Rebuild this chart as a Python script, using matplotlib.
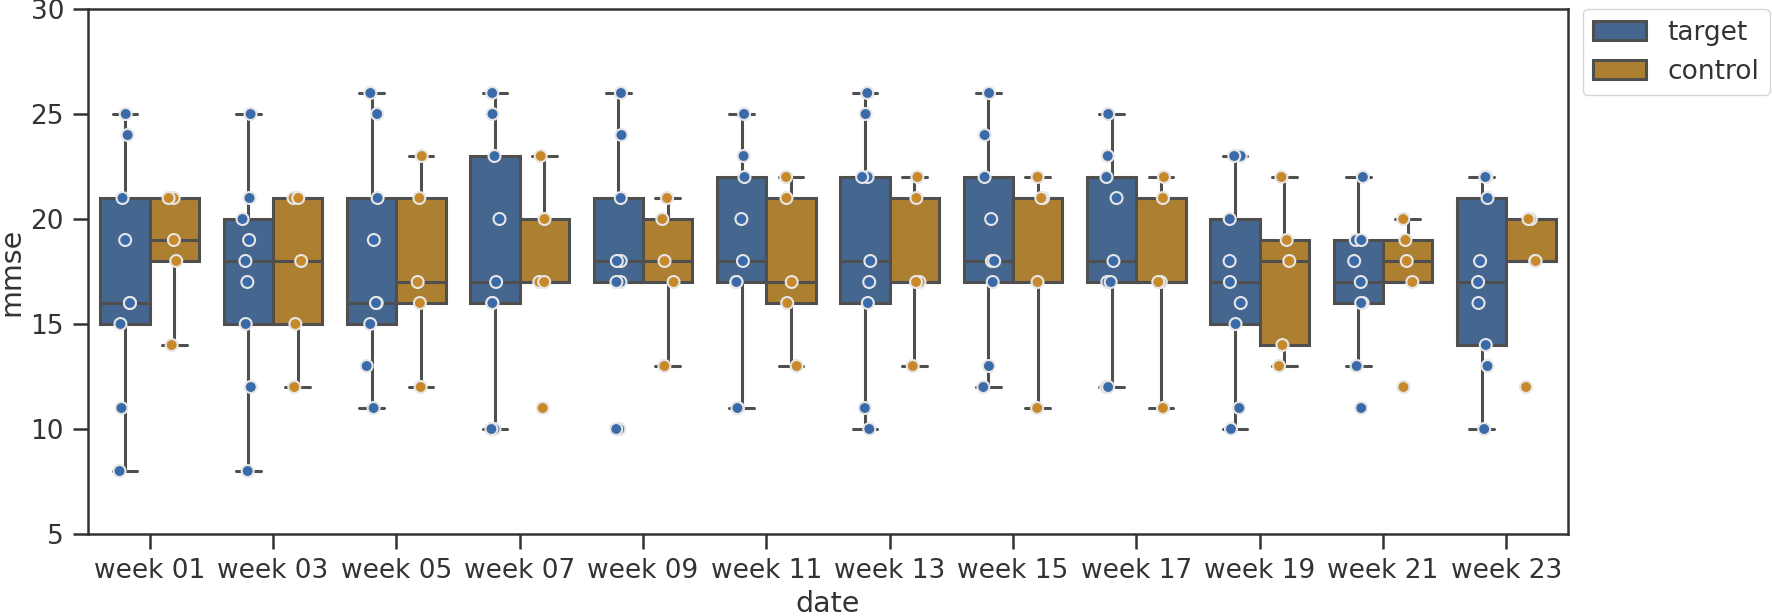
import matplotlib
matplotlib.use("Agg")
import matplotlib.pyplot as plt
import seaborn as sns
import numpy as np
import pandas as pd

# values
weeks = ["week 01", "week 03", "week 05", "week 07", "week 09", "week 11",
         "week 13", "week 15", "week 17", "week 19", "week 21", "week 23"]
groups = ["target", "control"]

target = [
    [25, 24, 21, 19, 16, 16, 15, 11, 8],
    [25, 21, 20, 19, 18, 17, 15, 12, 8],
    [26, 25, 21, 19, 16, 16, 15, 13, 11],
    [26, 25, 23, 20, 17, 16, 16, 10, 10],
    [26, 24, 21, 18, 18, 17, 17, 10, 10],
    [25, 23, 22, 20, 18, 17, 17, 11, 11],
    [26, 25, 22, 22, 18, 17, 16, 11, 10],
    [26, 24, 22, 20, 18, 18, 17, 13, 12],
    [25, 23, 22, 21, 18, 17, 17, 12, 12],
    [23, 23, 20, 18, 17, 16, 15, 11, 10],
    [22, 19, 19, 18, 17, 16, 16, 13, 11],
    [22, 22, 21, 18, 17, 16, 14, 13, 10],
]
control = [
    [21, 21, 19, 18, 14],
    [21, 21, 18, 15, 12],
    [23, 21, 17, 16, 12],
    [23, 20, 17, 17, 11],
    [21, 20, 18, 17, 13],
    [22, 21, 17, 16, 13],
    [22, 21, 17, 17, 13],
    [22, 21, 21, 17, 11],
    [22, 21, 17, 17, 11],
    [22, 19, 18, 14, 13],
    [20, 19, 18, 17, 12],
    [20, 20, 18, 18, 12],
]

box_colors = ["#44668f", "#ad7f30"]
point_colors = ["#3b6aa8", "#c8892b"]
line_color = "#4f4f4f"

rows = []
for w, t, c in zip(weeks, target, control):
    rows += [(w, "target", v) for v in t]
    rows += [(w, "control", v) for v in c]
df = pd.DataFrame(rows, columns=["date", "group", "mmse"])

sns.set_theme(style="ticks")
plt.rcParams["font.family"] = ["DejaVu Sans"]
plt.rcParams["text.color"] = "#333333"
plt.rcParams["axes.labelcolor"] = "#333333"
plt.rcParams["xtick.color"] = "#333333"
plt.rcParams["ytick.color"] = "#333333"

fig, ax = plt.subplots(figsize=(17.72, 6.16), dpi=100)
fig.subplots_adjust(left=0.0497, right=0.8849, top=0.9854, bottom=0.1331)

np.random.seed(3)
sns.boxplot(data=df, x="date", y="mmse", hue="group", order=weeks,
            hue_order=groups, palette=box_colors, saturation=1,
            showfliers=False, linewidth=2.2, linecolor=line_color, ax=ax)
sns.stripplot(data=df, x="date", y="mmse", hue="group", order=weeks,
              hue_order=groups, palette=point_colors, dodge=True, jitter=True,
              size=8.6, edgecolor="#e6e6e6", linewidth=1.5, legend=False, ax=ax)

ax.set_ylim(5, 30)
ax.set_yticks(np.arange(5, 31, 5))
ax.set_xlabel("date", fontsize=20.5)
ax.set_ylabel("mmse", fontsize=20.5)
ax.tick_params(axis="both", labelsize=19, length=10.8, width=1.8, pad=6.5,
               color="#333333")
for s in ax.spines.values():
    s.set_linewidth(1.8)
    s.set_color("#333333")
    s.set_visible(True)

sns.move_legend(ax, "upper left", bbox_to_anchor=(1.01, 1), borderaxespad=0,
                title=None, fontsize=19, frameon=True)

fig.savefig("out.png", dpi=100)
